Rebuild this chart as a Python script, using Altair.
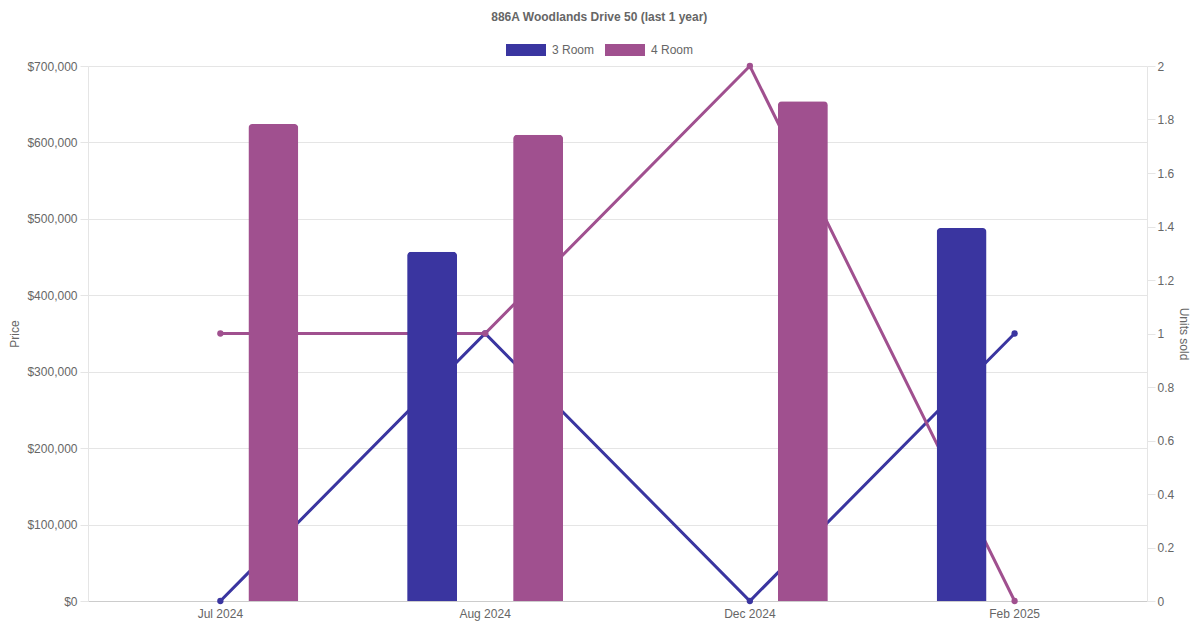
import altair as alt
import pandas as pd

months = ["Jul 2024", "Aug 2024", "Dec 2024", "Feb 2025"]
room_types = ["3 Room", "4 Room"]
price_3room = [None, 457000, None, 488000]
price_4room = [624000, 610000, 654000, None]
units_3room = [0, 1, 0, 1]
units_4room = [1, 1, 2, 0]
colors = ["#3a35a0", "#a0508f"]
price_ticks = [0, 100000, 200000, 300000, 400000, 500000, 600000, 700000]
unit_ticks = [0, 0.2, 0.4, 0.6, 0.8, 1, 1.2, 1.4, 1.6, 1.8, 2]

rows = []
for t, prices, units in [("3 Room", price_3room, units_3room),
                         ("4 Room", price_4room, units_4room)]:
    for m, p, u in zip(months, prices, units):
        rows.append({"month": m, "type": t, "price": p, "units": u})
df = pd.DataFrame(rows)

FONT = "Liberation Sans"
GRID = "#e5e5e5"
TXT = "#666666"

x_enc = alt.X(
    "month:N", sort=months,
    scale=alt.Scale(domain=months, paddingInner=0, paddingOuter=0),
    axis=alt.Axis(title=None, labelAngle=0, ticks=False, grid=False,
                  domainColor="#cccccc", labelPadding=7, labelColor=TXT),
)
color_scale = alt.Scale(domain=room_types, range=colors)

legend = alt.Legend(
    orient="none", legendX=418, legendY=-36, direction="horizontal", title=None,
    symbolType="M-1,-0.3H1V0.3H-1Z", symbolSize=1600, symbolStrokeWidth=0,
    symbolOpacity=1, labelFontSize=12, labelColor=TXT, labelFont=FONT,
    labelOffset=6, columnPadding=10, padding=0,
)

lines = alt.Chart(df).mark_line(
    strokeWidth=3, point=alt.OverlayMarkDef(filled=True, size=40)
).encode(
    x=x_enc,
    y=alt.Y("units:Q", scale=alt.Scale(domain=[0, 2], nice=False, zero=True),
            axis=alt.Axis(title="Units sold", orient="right", values=unit_ticks,
                          format=".1~f", grid=False, domainColor=GRID,
                          tickColor=GRID, tickSize=8, labelPadding=2,
                          titlePadding=3, titleAngle=90, labelColor=TXT,
                          titleColor=TXT)),
    color=alt.Color("type:N", scale=color_scale, legend=legend),
)

bars = alt.Chart(df).transform_filter("isValid(datum.price)").mark_bar(
    cornerRadiusTopLeft=4, cornerRadiusTopRight=4, opacity=1
).encode(
    x=x_enc,
    xOffset=alt.XOffset("type:N", scale=alt.Scale(domain=room_types,
                                                   paddingInner=0.5283,
                                                   paddingOuter=0.513)),
    y=alt.Y("price:Q", scale=alt.Scale(domain=[0, 700000], nice=False),
            axis=alt.Axis(title="Price", orient="left", values=price_ticks,
                          format="$,.0f", grid=True, gridColor=GRID,
                          domainColor=GRID, tickColor=GRID, tickSize=8,
                          labelPadding=3, titlePadding=5, labelColor=TXT,
                          titleColor=TXT)),
    color=alt.Color("type:N", scale=color_scale, legend=legend),
)

chart = alt.layer(lines, bars).resolve_scale(y="independent").properties(
    width=1059, height=535,
    autosize=alt.AutoSizeParams(type="none"),
    padding={"left": 80, "top": 58, "right": 45, "bottom": 21},
    title=alt.TitleParams(
        "886A Woodlands Drive 50 (last 1 year)", fontSize=12, fontWeight="bold",
        color=TXT, font=FONT, anchor="middle", frame="bounds", offset=6,
    ),
).configure_view(stroke=None).configure_axis(
    labelFont=FONT, titleFont=FONT, labelColor=TXT, titleColor=TXT,
    labelFontSize=12, titleFontSize=12, titleFontWeight="normal",
)

chart.save("out.html", embed_options={"renderer": "svg", "actions": False})
